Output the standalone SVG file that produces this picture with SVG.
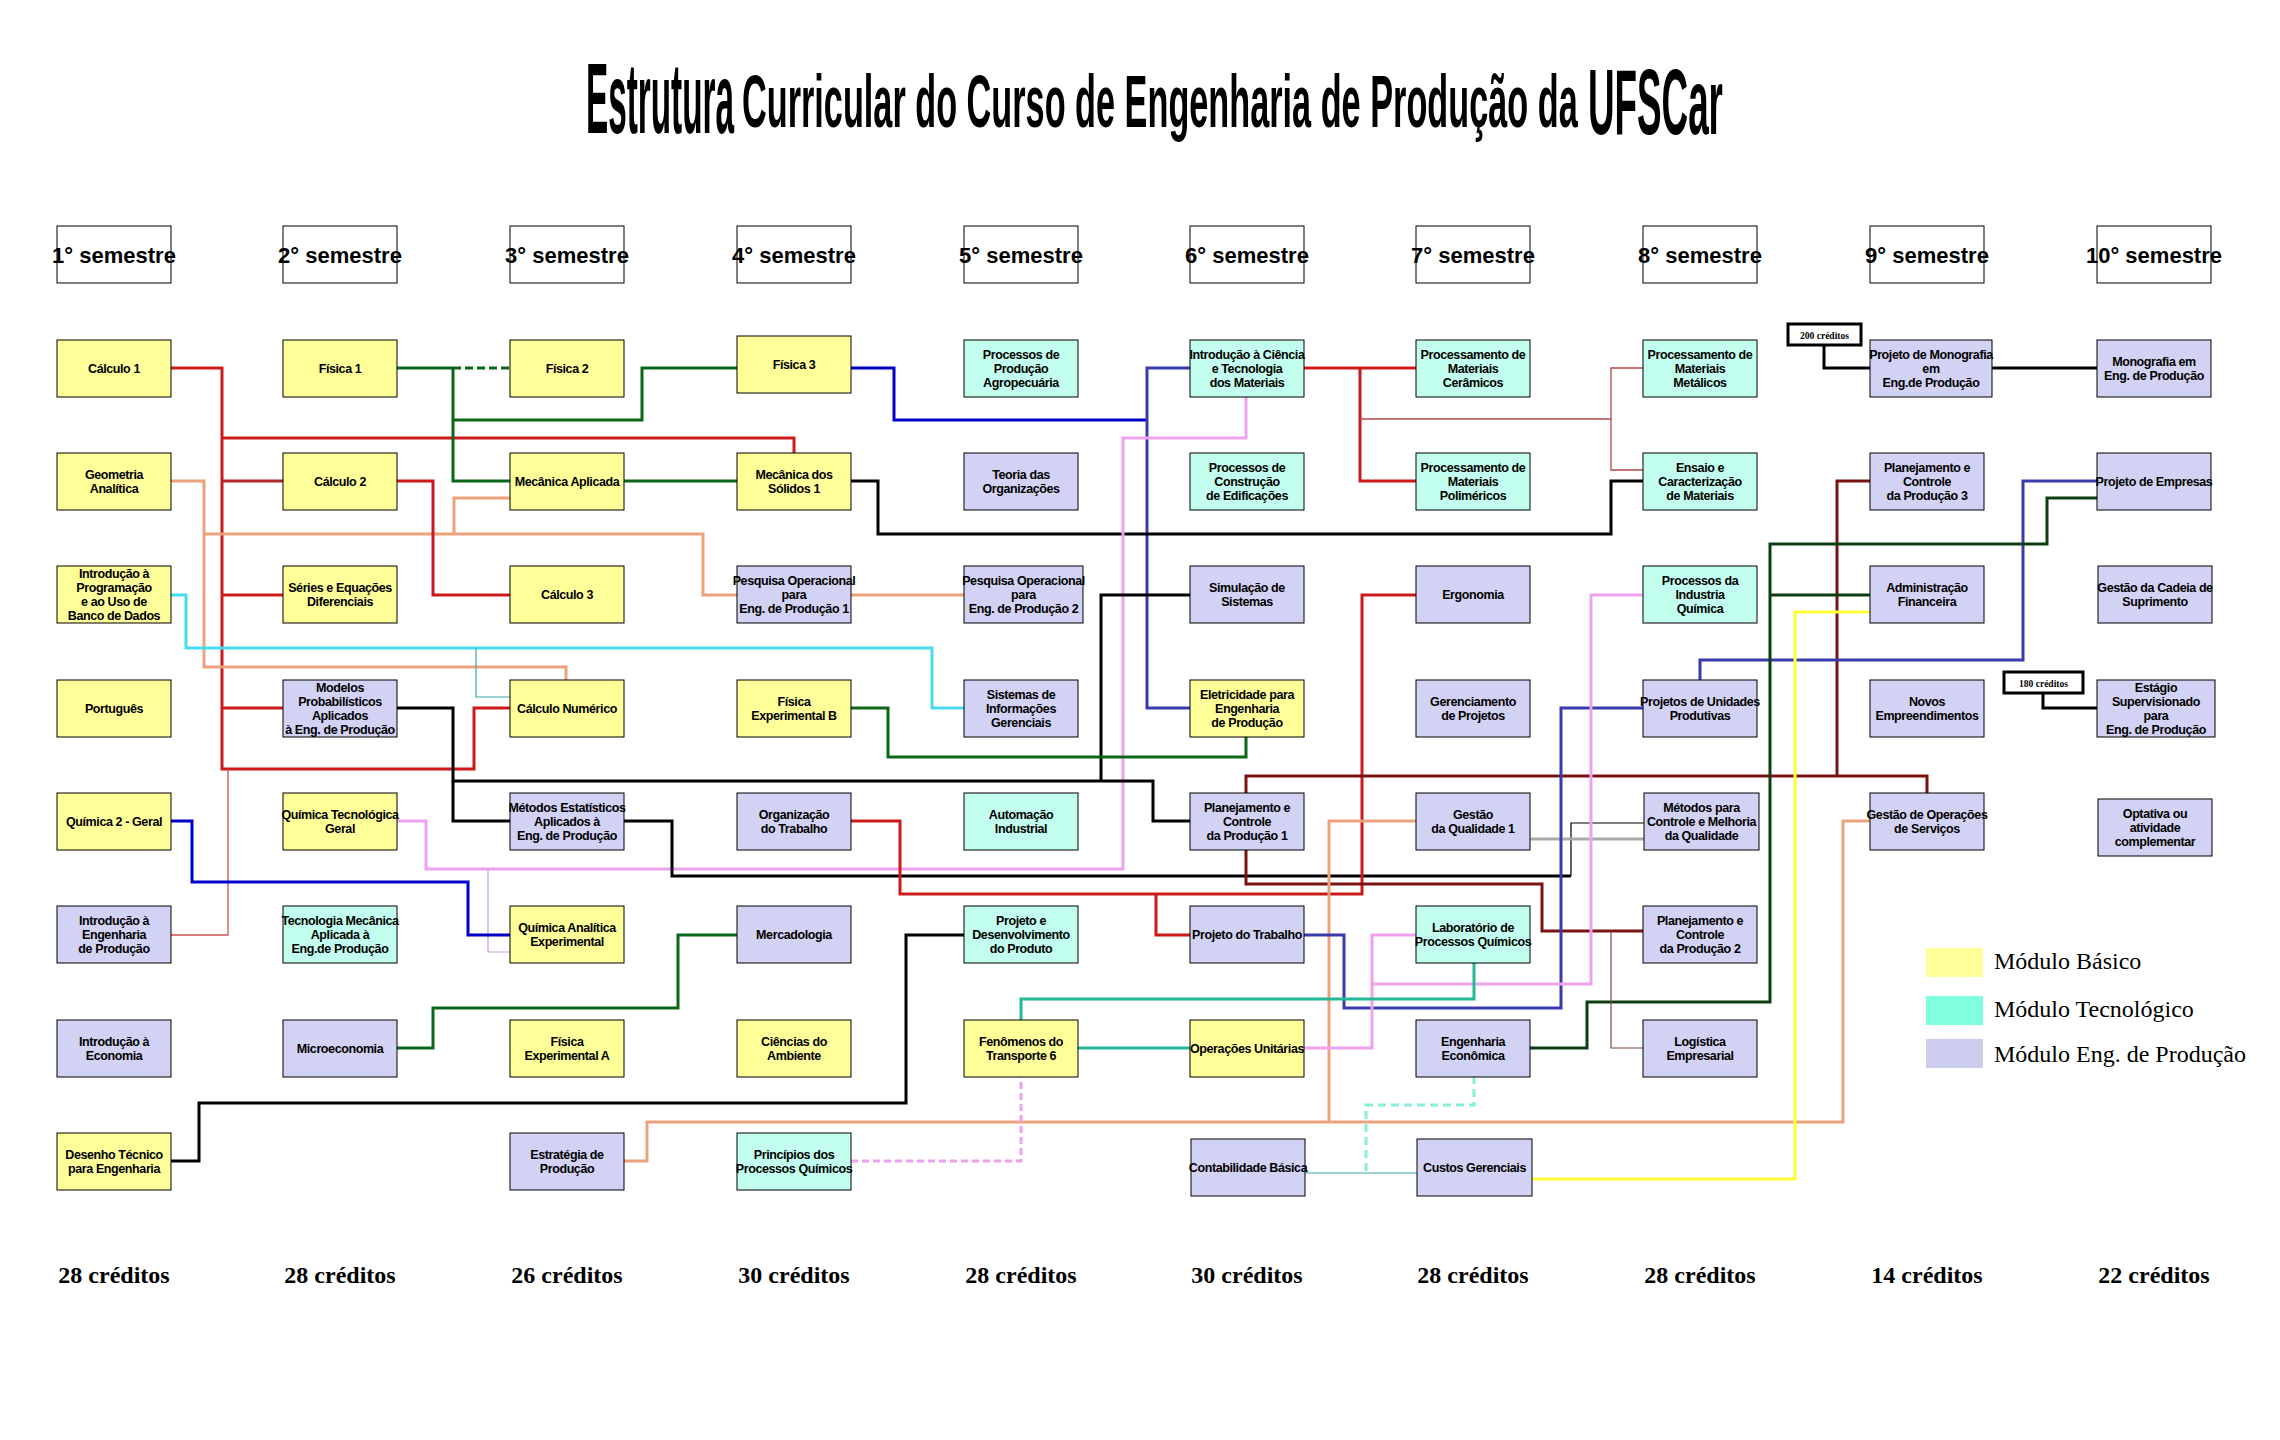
<svg xmlns="http://www.w3.org/2000/svg" width="2280" height="1440" viewBox="0 0 2280 1440">
<style>
.c{fill:none;stroke-linejoin:miter;stroke-linecap:butt}
.red{stroke:#CC1A1A;stroke-width:3}
.red2{stroke:#B02828;stroke-width:3}
.rthin{stroke:#C85050;stroke-width:1.3}
.rth2{stroke:#B04848;stroke-width:1.3}
.grn{stroke:#0B6618;stroke-width:3}
.grnd{stroke:#0B6618;stroke-width:3;stroke-dasharray:8 4}
.dgr{stroke:#0F3D12;stroke-width:3}
.blu{stroke:#0000C8;stroke-width:3}
.sbl{stroke:#3A3AB0;stroke-width:3}
.blk{stroke:#000;stroke-width:3}
.bthin{stroke:#000;stroke-width:1.2}
.sal{stroke:#EDA07C;stroke-width:3}
.cya{stroke:#48DCEC;stroke-width:3}
.tthin{stroke:#3AA6A6;stroke-width:1.2}
.pnk{stroke:#EEA2EE;stroke-width:3}
.pnkd{stroke:#EEA2EE;stroke-width:3;stroke-dasharray:7 4}
.pthin{stroke:#C8A0D8;stroke-width:1.2}
.teal{stroke:#22B898;stroke-width:3}
.yel{stroke:#FFFF33;stroke-width:3}
.gry{stroke:#AAAAAA;stroke-width:3}
.aqd{stroke:#88EED8;stroke-width:3;stroke-dasharray:8 5}
.mar{stroke:#7A1212;stroke-width:3}
.brn{stroke:#7A4A3A;stroke-width:1.2}
.n rect{stroke:#000;stroke-width:1}
.y rect{fill:#FFFF99}
.t rect{fill:#C2FFEE}
.p rect{fill:#D2D2F4}
.n text{font-family:"Liberation Sans",Arial,sans-serif;font-weight:bold;font-size:12.5px;letter-spacing:-0.4px;text-anchor:middle;fill:#000}
.sem rect{fill:#fff;stroke:#000;stroke-width:1}
.sem text{font-family:"Liberation Sans",Arial,sans-serif;font-weight:bold;font-size:22px;text-anchor:middle}
.cr{font-family:"Liberation Serif","Times New Roman",serif;font-weight:bold;font-size:24px;text-anchor:middle}
.lg{font-family:"Liberation Serif","Times New Roman",serif;font-size:24px}
.tt{font-family:"Liberation Sans",Arial,sans-serif;font-weight:bold}
.cb rect{fill:#fff;stroke:#000;stroke-width:3}
.cb text{font-family:"Liberation Serif","Times New Roman",serif;font-weight:bold;font-size:9.5px;text-anchor:middle}
</style>
<rect width="2280" height="1440" fill="#fff"/>

<g id="title" class="tt">
<text transform="translate(586 133) scale(0.333 1)" font-size="100">Estrutura</text>
<text transform="translate(742 127) scale(0.463 1)" font-size="74">Curricular do Curso de Engenharia de Produção da</text>
<text transform="translate(1588 134) scale(0.4 1)" font-size="92">UFSCar</text>
</g>

<g id="semesters" class="sem">
<rect x="57" y="226" width="114" height="57"/><text x="114" y="263">1° semestre</text>
<rect x="283" y="226" width="114" height="57"/><text x="340" y="263">2° semestre</text>
<rect x="510" y="226" width="114" height="57"/><text x="567" y="263">3° semestre</text>
<rect x="737" y="226" width="114" height="57"/><text x="794" y="263">4° semestre</text>
<rect x="964" y="226" width="114" height="57"/><text x="1021" y="263">5° semestre</text>
<rect x="1190" y="226" width="114" height="57"/><text x="1247" y="263">6° semestre</text>
<rect x="1416" y="226" width="114" height="57"/><text x="1473" y="263">7° semestre</text>
<rect x="1643" y="226" width="114" height="57"/><text x="1700" y="263">8° semestre</text>
<rect x="1870" y="226" width="114" height="57"/><text x="1927" y="263">9° semestre</text>
<rect x="2097" y="226" width="114" height="57"/><text x="2154" y="263">10° semestre</text>
</g>

<g id="connectors">
<path class="c red" d="M171 368 H222 V769 H474 V708 H510"/>
<path class="c red" d="M222 438 H794 V453"/>
<path class="c red2" d="M222 481 H283"/>
<path class="c red" d="M222 595 H283"/>
<path class="c red" d="M222 708 H283"/>
<path class="c rthin" d="M228 769 V935 H171"/>
<path class="c grn" d="M397 368 H453"/>
<path class="c grnd" d="M453 368 H510"/>
<path class="c grn" d="M453 368 V481 H510"/>
<path class="c grn" d="M453 420 H642 V368 H737"/>
<path class="c grn" d="M624 481 H737"/>
<path class="c sal" d="M171 481 H204 V667 H566 V680"/>
<path class="c sal" d="M204 534 H703 V595 H737"/>
<path class="c sal" d="M454 534 V498 H510"/>
<path class="c sal" d="M851 595 H964"/>
<path class="c blu" d="M851 368 H894 V420 H1147"/>
<path class="c sbl" d="M1190 368 H1147 V708 H1190"/>
<path class="c blk" d="M851 481 H878 V534 H1611 V481 H1643"/>
<path class="c pnk" d="M397 821 H426 V869 H1123 V438 H1246 V396"/>
<path class="c pthin" d="M488 869 V952 H510"/>
<path class="c red" d="M397 481 H433 V595 H510"/>
<path class="c cya" d="M171 595 H186 V648 H932 V708 H964"/>
<path class="c tthin" d="M476 648 V697 H510"/>
<path class="c blk" d="M397 708 H453 V781 H1153 V821 H1190"/>
<path class="c blk" d="M453 781 V821 H510"/>
<path class="c blk" d="M1101 781 V595 H1190"/>
<path class="c blk" d="M624 821 H672 V876 H1571"/>
<path class="c bthin" d="M1571 876 V823 H1644"/>
<path class="c red" d="M851 821 H900 V894 H1362 V595 H1416"/>
<path class="c red" d="M1156 894 V935 H1190"/>
<path class="c grn" d="M851 708 H888 V757 H1246 V736"/>
<path class="c mar" d="M1246 793 V776 H1927 V793"/>
<path class="c mar" d="M1837 776 V481 H1870"/>
<path class="c mar" d="M1246 850 V884 H1542 V931 H1643"/>
<path class="c sal" d="M624 1161 H647 V1122 H1843 V821 H1870"/>
<path class="c sal" d="M1329 1122 V821 H1416"/>
<path class="c gry" d="M1530 839 H1644"/>
<path class="c sbl" d="M1304 935 H1344 V1008 H1561 V708 H1643"/>
<path class="c sbl" d="M1700 680 V660 H2023 V481 H2097"/>
<path class="c pnk" d="M1643 595 H1591 V984 H1372"/>
<path class="c pnk" d="M1416 935 H1372 V1048 H1304"/>
<path class="c teal" d="M1021 1020 V999 H1474 V963"/>
<path class="c teal" d="M1078 1048 H1190"/>
<path class="c pnkd" d="M851 1161 H1021 V1076"/>
<path class="c blk" d="M964 935 H906 V1103 H199 V1161 H171"/>
<path class="c grn" d="M397 1048 H433 V1008 H678 V935 H737"/>
<path class="c blu" d="M171 821 H192 V882 H468 V935 H510"/>
<path class="c aqd" d="M1474 1076 V1105 H1366 V1173"/>
<path class="c tthin" d="M1305 1173 H1417"/>
<path class="c yel" d="M1532 1179 H1795 V612 H1870"/>
<path class="c dgr" d="M1530 1048 H1587 V1002 H1770 V544 H2047 V498 H2097"/>
<path class="c dgr" d="M1770 595 H1870"/>
<path class="c brn" d="M1611 931 V1048 H1643"/>
<path class="c red" d="M1304 368 H1416"/>
<path class="c red" d="M1360 368 V481 H1416"/>
<path class="c rth2" d="M1360 419 H1611"/>
<path class="c rth2" d="M1643 368 H1611 V470 H1643"/>
<path class="c blk" d="M1824 345 V368 H1870"/>
<path class="c blk" d="M1992 368 H2097"/>
<path class="c blk" d="M2043 693 V708 H2097"/>
</g>

<g id="cred200" class="cb"><rect x="1788" y="324" width="73" height="21"/><text x="1824.5" y="338.5">200 créditos</text></g>
<g id="cred180" class="cb"><rect x="2004" y="672" width="79" height="21"/><text x="2043.5" y="686.5">180 créditos</text></g>

<!-- Column 1 -->
<g id="calculo1" class="n y"><rect x="57" y="340" width="114" height="57"/><text x="114" y="373">Cálculo 1</text></g>
<g id="geometria" class="n y"><rect x="57" y="453" width="114" height="57"/><text x="114" y="478.85"><tspan x="114">Geometria</tspan><tspan x="114" dy="14.3">Analítica</tspan></text></g>
<g id="introprog" class="n y"><rect x="57" y="566" width="114" height="57"/><text x="114" y="577.55"><tspan x="114">Introdução à</tspan><tspan x="114" dy="14.3">Programação</tspan><tspan x="114" dy="14.3">e ao Uso de</tspan><tspan x="114" dy="14.3">Banco de Dados</tspan></text></g>
<g id="portugues" class="n y"><rect x="57" y="680" width="114" height="57"/><text x="114" y="713">Português</text></g>
<g id="quimica2" class="n y"><rect x="57" y="793" width="114" height="57"/><text x="114" y="826">Química 2 - Geral</text></g>
<g id="introeng" class="n p"><rect x="57" y="906" width="114" height="57"/><text x="114" y="924.7"><tspan x="114">Introdução à</tspan><tspan x="114" dy="14.3">Engenharia</tspan><tspan x="114" dy="14.3">de Produção</tspan></text></g>
<g id="introeco" class="n p"><rect x="57" y="1020" width="114" height="57"/><text x="114" y="1045.85"><tspan x="114">Introdução à</tspan><tspan x="114" dy="14.3">Economia</tspan></text></g>
<g id="desenho" class="n y"><rect x="57" y="1133" width="114" height="57"/><text x="114" y="1158.85"><tspan x="114">Desenho Técnico</tspan><tspan x="114" dy="14.3">para Engenharia</tspan></text></g>

<!-- Column 2 -->
<g id="fisica1" class="n y"><rect x="283" y="340" width="114" height="57"/><text x="340" y="373">Física 1</text></g>
<g id="calculo2" class="n y"><rect x="283" y="453" width="114" height="57"/><text x="340" y="486">Cálculo 2</text></g>
<g id="series" class="n y"><rect x="283" y="566" width="114" height="57"/><text x="340" y="591.85"><tspan x="340">Séries e Equações</tspan><tspan x="340" dy="14.3">Diferenciais</tspan></text></g>
<g id="modelos" class="n p"><rect x="283" y="680" width="114" height="57"/><text x="340" y="691.55"><tspan x="340">Modelos</tspan><tspan x="340" dy="14.3">Probabilísticos</tspan><tspan x="340" dy="14.3">Aplicados</tspan><tspan x="340" dy="14.3">à Eng. de Produção</tspan></text></g>
<g id="quimtec" class="n y"><rect x="283" y="793" width="114" height="57"/><text x="340" y="818.85"><tspan x="340">Química Tecnológica</tspan><tspan x="340" dy="14.3">Geral</tspan></text></g>
<g id="tecmec" class="n t"><rect x="283" y="906" width="114" height="57"/><text x="340" y="924.7"><tspan x="340">Tecnologia Mecânica</tspan><tspan x="340" dy="14.3">Aplicada à</tspan><tspan x="340" dy="14.3">Eng.de Produção</tspan></text></g>
<g id="micro" class="n p"><rect x="283" y="1020" width="114" height="57"/><text x="340" y="1053">Microeconomia</text></g>

<!-- Column 3 -->
<g id="fisica2" class="n y"><rect x="510" y="340" width="114" height="57"/><text x="567" y="373">Física 2</text></g>
<g id="mecapl" class="n y"><rect x="510" y="453" width="114" height="57"/><text x="567" y="486">Mecânica Aplicada</text></g>
<g id="calculo3" class="n y"><rect x="510" y="566" width="114" height="57"/><text x="567" y="599">Cálculo 3</text></g>
<g id="calcnum" class="n y"><rect x="510" y="680" width="114" height="57"/><text x="567" y="713">Cálculo Numérico</text></g>
<g id="metest" class="n p"><rect x="510" y="793" width="114" height="57"/><text x="567" y="811.7"><tspan x="567">Métodos Estatísticos</tspan><tspan x="567" dy="14.3">Aplicados à</tspan><tspan x="567" dy="14.3">Eng. de Produção</tspan></text></g>
<g id="quimanal" class="n y"><rect x="510" y="906" width="114" height="57"/><text x="567" y="931.85"><tspan x="567">Química Analítica</tspan><tspan x="567" dy="14.3">Experimental</tspan></text></g>
<g id="fisexpA" class="n y"><rect x="510" y="1020" width="114" height="57"/><text x="567" y="1045.85"><tspan x="567">Física</tspan><tspan x="567" dy="14.3">Experimental A</tspan></text></g>
<g id="estrategia" class="n p"><rect x="510" y="1133" width="114" height="57"/><text x="567" y="1158.85"><tspan x="567">Estratégia de</tspan><tspan x="567" dy="14.3">Produção</tspan></text></g>

<!-- Column 4 -->
<g id="fisica3" class="n y"><rect x="737" y="336" width="114" height="57"/><text x="794" y="368.5">Física 3</text></g>
<g id="mecsol" class="n y"><rect x="737" y="453" width="114" height="57"/><text x="794" y="478.85"><tspan x="794">Mecânica dos</tspan><tspan x="794" dy="14.3">Sólidos 1</tspan></text></g>
<g id="po1" class="n p"><rect x="737" y="566" width="114" height="57"/><text x="794" y="584.7"><tspan x="794">Pesquisa Operacional</tspan><tspan x="794" dy="14.3">para</tspan><tspan x="794" dy="14.3">Eng. de Produção 1</tspan></text></g>
<g id="fisexpB" class="n y"><rect x="737" y="680" width="114" height="57"/><text x="794" y="705.85"><tspan x="794">Física</tspan><tspan x="794" dy="14.3">Experimental B</tspan></text></g>
<g id="orgtrab" class="n p"><rect x="737" y="793" width="114" height="57"/><text x="794" y="818.85"><tspan x="794">Organização</tspan><tspan x="794" dy="14.3">do Trabalho</tspan></text></g>
<g id="mercadologia" class="n p"><rect x="737" y="906" width="114" height="57"/><text x="794" y="939">Mercadologia</text></g>
<g id="cienamb" class="n y"><rect x="737" y="1020" width="114" height="57"/><text x="794" y="1045.85"><tspan x="794">Ciências do</tspan><tspan x="794" dy="14.3">Ambiente</tspan></text></g>
<g id="principios" class="n t"><rect x="737" y="1133" width="114" height="57"/><text x="794" y="1158.85"><tspan x="794">Princípios dos</tspan><tspan x="794" dy="14.3">Processos Químicos</tspan></text></g>

<!-- Column 5 -->
<g id="procagro" class="n t"><rect x="964" y="340" width="114" height="57"/><text x="1021" y="358.7"><tspan x="1021">Processos de</tspan><tspan x="1021" dy="14.3">Produção</tspan><tspan x="1021" dy="14.3">Agropecuária</tspan></text></g>
<g id="teoria" class="n p"><rect x="964" y="453" width="114" height="57"/><text x="1021" y="478.85"><tspan x="1021">Teoria das</tspan><tspan x="1021" dy="14.3">Organizações</tspan></text></g>
<g id="po2" class="n p"><rect x="964" y="566" width="119" height="57"/><text x="1023.5" y="584.7"><tspan x="1023.5">Pesquisa Operacional</tspan><tspan x="1023.5" dy="14.3">para</tspan><tspan x="1023.5" dy="14.3">Eng. de Produção 2</tspan></text></g>
<g id="sig" class="n p"><rect x="964" y="680" width="114" height="57"/><text x="1021" y="698.7"><tspan x="1021">Sistemas de</tspan><tspan x="1021" dy="14.3">Informações</tspan><tspan x="1021" dy="14.3">Gerenciais</tspan></text></g>
<g id="automacao" class="n t"><rect x="964" y="793" width="114" height="57"/><text x="1021" y="818.85"><tspan x="1021">Automação</tspan><tspan x="1021" dy="14.3">Industrial</tspan></text></g>
<g id="projdes" class="n t"><rect x="964" y="906" width="114" height="57"/><text x="1021" y="924.7"><tspan x="1021">Projeto e</tspan><tspan x="1021" dy="14.3">Desenvolvimento</tspan><tspan x="1021" dy="14.3">do Produto</tspan></text></g>
<g id="fenomenos" class="n y"><rect x="964" y="1020" width="114" height="57"/><text x="1021" y="1045.85"><tspan x="1021">Fenômenos do</tspan><tspan x="1021" dy="14.3">Transporte 6</tspan></text></g>

<!-- Column 6 -->
<g id="introcien" class="n t"><rect x="1190" y="340" width="114" height="57"/><text x="1247" y="358.7"><tspan x="1247">Introdução à Ciência</tspan><tspan x="1247" dy="14.3">e Tecnologia</tspan><tspan x="1247" dy="14.3">dos Materiais</tspan></text></g>
<g id="proccons" class="n t"><rect x="1190" y="453" width="114" height="57"/><text x="1247" y="471.7"><tspan x="1247">Processos de</tspan><tspan x="1247" dy="14.3">Construção</tspan><tspan x="1247" dy="14.3">de Edificações</tspan></text></g>
<g id="simulacao" class="n p"><rect x="1190" y="566" width="114" height="57"/><text x="1247" y="591.85"><tspan x="1247">Simulação de</tspan><tspan x="1247" dy="14.3">Sistemas</tspan></text></g>
<g id="eletricidade" class="n y"><rect x="1190" y="680" width="114" height="57"/><text x="1247" y="698.7"><tspan x="1247">Eletricidade para</tspan><tspan x="1247" dy="14.3">Engenharia</tspan><tspan x="1247" dy="14.3">de Produção</tspan></text></g>
<g id="pcp1" class="n p"><rect x="1190" y="793" width="114" height="57"/><text x="1247" y="811.7"><tspan x="1247">Planejamento e</tspan><tspan x="1247" dy="14.3">Controle</tspan><tspan x="1247" dy="14.3">da Produção 1</tspan></text></g>
<g id="projtrab" class="n p"><rect x="1190" y="906" width="114" height="57"/><text x="1247" y="939">Projeto do Trabalho</text></g>
<g id="opunit" class="n y"><rect x="1190" y="1020" width="114" height="57"/><text x="1247" y="1053">Operações Unitárias</text></g>
<g id="contabilidade" class="n p"><rect x="1191" y="1139" width="114" height="57"/><text x="1248" y="1172">Contabilidade Básica</text></g>

<!-- Column 7 -->
<g id="ceramicos" class="n t"><rect x="1416" y="340" width="114" height="57"/><text x="1473" y="358.7"><tspan x="1473">Processamento de</tspan><tspan x="1473" dy="14.3">Materiais</tspan><tspan x="1473" dy="14.3">Cerâmicos</tspan></text></g>
<g id="polimericos" class="n t"><rect x="1416" y="453" width="114" height="57"/><text x="1473" y="471.7"><tspan x="1473">Processamento de</tspan><tspan x="1473" dy="14.3">Materiais</tspan><tspan x="1473" dy="14.3">Poliméricos</tspan></text></g>
<g id="ergonomia" class="n p"><rect x="1416" y="566" width="114" height="57"/><text x="1473" y="599">Ergonomia</text></g>
<g id="gerproj" class="n p"><rect x="1416" y="680" width="114" height="57"/><text x="1473" y="705.85"><tspan x="1473">Gerenciamento</tspan><tspan x="1473" dy="14.3">de Projetos</tspan></text></g>
<g id="gq1" class="n p"><rect x="1416" y="793" width="114" height="57"/><text x="1473" y="818.85"><tspan x="1473">Gestão</tspan><tspan x="1473" dy="14.3">da Qualidade 1</tspan></text></g>
<g id="labquim" class="n t"><rect x="1416" y="906" width="114" height="57"/><text x="1473" y="931.85"><tspan x="1473">Laboratório de</tspan><tspan x="1473" dy="14.3">Processos Químicos</tspan></text></g>
<g id="engeco" class="n p"><rect x="1416" y="1020" width="114" height="57"/><text x="1473" y="1045.85"><tspan x="1473">Engenharia</tspan><tspan x="1473" dy="14.3">Econômica</tspan></text></g>
<g id="custos" class="n p"><rect x="1417" y="1139" width="115" height="57"/><text x="1474.5" y="1172">Custos Gerenciais</text></g>

<!-- Column 8 -->
<g id="metalicos" class="n t"><rect x="1643" y="340" width="114" height="57"/><text x="1700" y="358.7"><tspan x="1700">Processamento de</tspan><tspan x="1700" dy="14.3">Materiais</tspan><tspan x="1700" dy="14.3">Metálicos</tspan></text></g>
<g id="ensaio" class="n t"><rect x="1643" y="453" width="114" height="57"/><text x="1700" y="471.7"><tspan x="1700">Ensaio e</tspan><tspan x="1700" dy="14.3">Caracterização</tspan><tspan x="1700" dy="14.3">de Materiais</tspan></text></g>
<g id="procind" class="n t"><rect x="1643" y="566" width="114" height="57"/><text x="1700" y="584.7"><tspan x="1700">Processos da</tspan><tspan x="1700" dy="14.3">Industria</tspan><tspan x="1700" dy="14.3">Química</tspan></text></g>
<g id="projunid" class="n p"><rect x="1643" y="680" width="114" height="57"/><text x="1700" y="705.85"><tspan x="1700">Projetos de Unidades</tspan><tspan x="1700" dy="14.3">Produtivas</tspan></text></g>
<g id="metqual" class="n p"><rect x="1644" y="793" width="115" height="57"/><text x="1701.5" y="811.7"><tspan x="1701.5">Métodos para</tspan><tspan x="1701.5" dy="14.3">Controle e Melhoria</tspan><tspan x="1701.5" dy="14.3">da Qualidade</tspan></text></g>
<g id="pcp2" class="n p"><rect x="1643" y="906" width="114" height="57"/><text x="1700" y="924.7"><tspan x="1700">Planejamento e</tspan><tspan x="1700" dy="14.3">Controle</tspan><tspan x="1700" dy="14.3">da Produção 2</tspan></text></g>
<g id="logistica" class="n p"><rect x="1643" y="1020" width="114" height="57"/><text x="1700" y="1045.85"><tspan x="1700">Logística</tspan><tspan x="1700" dy="14.3">Empresarial</tspan></text></g>

<!-- Column 9 -->
<g id="projmono" class="n p"><rect x="1870" y="340" width="122" height="57"/><text x="1931" y="358.7"><tspan x="1931">Projeto de Monografia</tspan><tspan x="1931" dy="14.3">em</tspan><tspan x="1931" dy="14.3">Eng.de Produção</tspan></text></g>
<g id="pcp3" class="n p"><rect x="1870" y="453" width="114" height="57"/><text x="1927" y="471.7"><tspan x="1927">Planejamento e</tspan><tspan x="1927" dy="14.3">Controle</tspan><tspan x="1927" dy="14.3">da Produção 3</tspan></text></g>
<g id="admfin" class="n p"><rect x="1870" y="566" width="114" height="57"/><text x="1927" y="591.85"><tspan x="1927">Administração</tspan><tspan x="1927" dy="14.3">Financeira</tspan></text></g>
<g id="novos" class="n p"><rect x="1870" y="680" width="114" height="57"/><text x="1927" y="705.85"><tspan x="1927">Novos</tspan><tspan x="1927" dy="14.3">Empreendimentos</tspan></text></g>
<g id="gestops" class="n p"><rect x="1870" y="793" width="114" height="57"/><text x="1927" y="818.85"><tspan x="1927">Gestão de Operações</tspan><tspan x="1927" dy="14.3">de Serviços</tspan></text></g>

<!-- Column 10 -->
<g id="monografia" class="n p"><rect x="2097" y="340" width="114" height="57"/><text x="2154" y="365.85"><tspan x="2154">Monografia em</tspan><tspan x="2154" dy="14.3">Eng. de Produção</tspan></text></g>
<g id="projemp" class="n p"><rect x="2097" y="453" width="114" height="57"/><text x="2154" y="486">Projeto de Empresas</text></g>
<g id="cadeia" class="n p"><rect x="2098" y="566" width="114" height="57"/><text x="2155" y="591.85"><tspan x="2155">Gestão da Cadeia de</tspan><tspan x="2155" dy="14.3">Suprimento</tspan></text></g>
<g id="estagio" class="n p"><rect x="2097" y="680" width="118" height="57"/><text x="2156" y="691.55"><tspan x="2156">Estágio</tspan><tspan x="2156" dy="14.3">Supervisionado</tspan><tspan x="2156" dy="14.3">para</tspan><tspan x="2156" dy="14.3">Eng. de Produção</tspan></text></g>
<g id="optativa" class="n p"><rect x="2098" y="799" width="114" height="57"/><text x="2155" y="817.7"><tspan x="2155">Optativa ou</tspan><tspan x="2155" dy="14.3">atividade</tspan><tspan x="2155" dy="14.3">complementar</tspan></text></g>

<g id="creditos">
<text class="cr" x="114" y="1283">28 créditos</text>
<text class="cr" x="340" y="1283">28 créditos</text>
<text class="cr" x="567" y="1283">26 créditos</text>
<text class="cr" x="794" y="1283">30 créditos</text>
<text class="cr" x="1021" y="1283">28 créditos</text>
<text class="cr" x="1247" y="1283">30 créditos</text>
<text class="cr" x="1473" y="1283">28 créditos</text>
<text class="cr" x="1700" y="1283">28 créditos</text>
<text class="cr" x="1927" y="1283">14 créditos</text>
<text class="cr" x="2154" y="1283">22 créditos</text>
</g>

<g id="legend">
<rect x="1926" y="948" width="57" height="29" fill="#FFFF99"/>
<text class="lg" x="1994" y="969">Módulo Básico</text>
<rect x="1926" y="996" width="57" height="29" fill="#80FFDD"/>
<text class="lg" x="1994" y="1017">Módulo Tecnológico</text>
<rect x="1926" y="1039" width="57" height="29" fill="#CCCCEE"/>
<text class="lg" x="1994" y="1062">Módulo Eng. de Produção</text>
</g>
</svg>
